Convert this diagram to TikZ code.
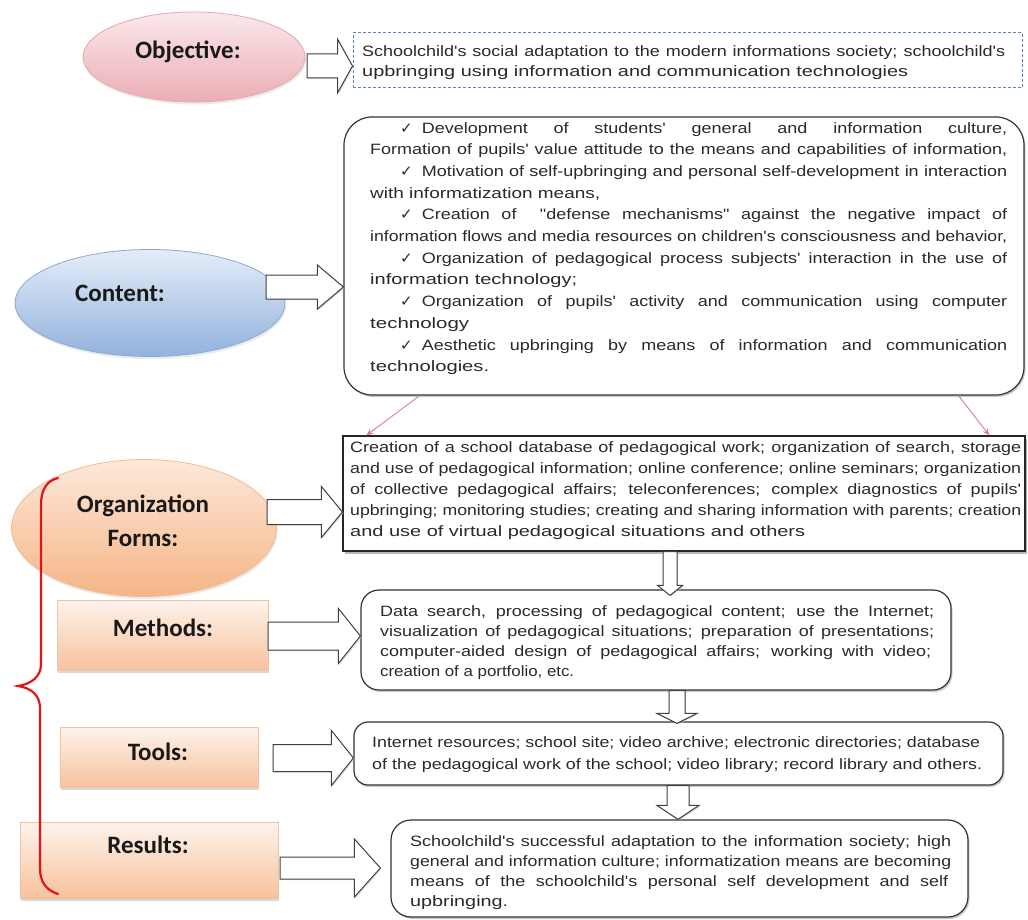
\documentclass[tikz,border=0pt]{standalone}
\usepackage{fontspec}
\usepackage{graphicx}
\newfontfamily\bodyfont{Liberation Sans}[FakeStretch=1.2]
\newfontfamily\labelfont{Carlito}
\newfontfamily\symfont{DejaVu Sans}
\usetikzlibrary{shapes.geometric,shadows,calc,arrows.meta}

\definecolor{objtop}{HTML}{FBE8EA}
\definecolor{objbot}{HTML}{EBADB5}
\definecolor{objline}{HTML}{E6A8B0}
\definecolor{conttop}{HTML}{E4EDF8}
\definecolor{contbot}{HTML}{93B2DD}
\definecolor{contline}{HTML}{8AA9D3}
\definecolor{orgtop}{HTML}{FDE8DA}
\definecolor{orgbot}{HTML}{F5B586}
\definecolor{orgline}{HTML}{F2BC97}
\definecolor{peachtop}{HTML}{FEF3EC}
\definecolor{peachbot}{HTML}{F7C29D}
\definecolor{peachline}{HTML}{EFC3A3}
\definecolor{dashblue}{HTML}{5B84B8}
\definecolor{connpink}{HTML}{D9808F}
\definecolor{bracered}{HTML}{E01515}
\definecolor{txt}{HTML}{2A2A2A}

\newlength\natw
% full (justified) line of given width
\newcommand\fl[2]{\settowidth\natw{#2}%
  \ifdim\natw<#1pt\relax
    \hbox to #1pt{\spaceskip=\fontdimen2\font plus 1fill\xspaceskip=\spaceskip #2}%
  \else
    \resizebox{#1pt}{\height}{#2}%
  \fi}
% partial (last) line: scaled to the given width, spaces unchanged
\newcommand\pl[2]{\resizebox{#1pt}{\height}{#2}}
\newcommand\ind[2]{\hbox{\hskip30pt\fl{#1}{#2}}}
\newcommand\ck{{\symfont ✓}\hspace{9pt}}

% right block arrow: start, tip, shaft half, head half, head length
\newcommand\rarrow[5]{\draw[blockarrow] let \p1=#1, \p2=#2 in
  (\x1,\y1+#3pt) -- (\x2-#5pt,\y1+#3pt) -- (\x2-#5pt,\y1+#4pt) -- (\x2,\y1)
  -- (\x2-#5pt,\y1-#4pt) -- (\x2-#5pt,\y1-#3pt) -- (\x1,\y1-#3pt) -- cycle;}
% down block arrow: start, tip, shaft half, head half, head length
\newcommand\darrow[5]{\draw[blockarrow] let \p1=#1, \p2=#2 in
  (\x1-#3pt,\y1) -- (\x1-#3pt,\y2+#5pt) -- (\x1-#4pt,\y2+#5pt) -- (\x1,\y2)
  -- (\x1+#4pt,\y2+#5pt) -- (\x1+#3pt,\y2+#5pt) -- (\x1+#3pt,\y1) -- cycle;}

\begin{document}
\begin{tikzpicture}[x=1pt,y=-1pt,
  lbl/.style={font=\labelfont\bfseries\fontsize{25}{34}\selectfont, text=black!90, inner sep=0pt},
  bodytext/.style={font=\bodyfont\fontsize{15}{#1}\selectfont, text=txt, inner sep=0pt, align=left, anchor=north west},
  blockarrow/.style={draw=black!75, fill=white, line width=1pt, line join=miter,
    drop shadow={shadow xshift=1.2pt, shadow yshift=-1.2pt, fill=black!25}},
  roundbox/.style={draw=black!80, line width=1.2pt, fill=white, inner sep=0pt,
    drop shadow={shadow xshift=1.5pt, shadow yshift=-2pt, fill=black!40}},
  sqbox/.style={draw=black!85, line width=1.2pt, fill=white, inner sep=0pt,
    drop shadow={shadow xshift=2pt, shadow yshift=-2.5pt, fill=black!55}},
  ellnode/.style={ellipse, inner sep=0pt, line width=0.8pt,
    drop shadow={shadow xshift=1pt, shadow yshift=-2.5pt, fill=black!15}},
  peach/.style={rectangle, inner sep=0pt, draw=peachline, line width=0.6pt,
    top color=peachtop, bottom color=peachbot,
    drop shadow={shadow xshift=1pt, shadow yshift=-2.5pt, fill=black!30}},
  pinkconn/.style={draw=connpink, line width=0.9pt, -{Stealth[length=7pt,width=6pt]}},
  redbrace/.style={draw=bracered, line width=2.2pt, line cap=round}
]
\useasboundingbox[fill=white] (0,0) rectangle (1028,920);

% ---------- right-hand boxes ----------
\node[draw=dashblue, dash pattern=on 3pt off 2pt, line width=1pt, inner sep=0pt,
      minimum width=669pt, minimum height=55pt] (objbox) at (687.5,60.5) {};
\node[roundbox, rounded corners=28pt, minimum width=680pt, minimum height=278pt] (contbox) at (684,256) {};
\node[sqbox, minimum width=682pt, minimum height=115pt] (orgbox) at (684,493.5) {};
\node[roundbox, rounded corners=18pt, minimum width=590pt, minimum height=100pt] (methbox) at (656,640) {};
\node[roundbox, rounded corners=14pt, minimum width=649pt, minimum height=63pt] (toolbox) at (678.5,753.5) {};
\node[roundbox, rounded corners=20pt, minimum width=577pt, minimum height=97pt] (resbox) at (679.5,868.5) {};

% ---------- left-hand shapes ----------
\node[ellnode, draw=objline, top color=objtop, bottom color=objbot,
      minimum width=222pt, minimum height=90pt] (obj) at (194,57) {};
\node[ellnode, draw=contline, top color=conttop, bottom color=contbot,
      minimum width=270pt, minimum height=107pt] (cont) at (150,303) {};
\node[ellnode, draw=orgline, top color=orgtop, bottom color=orgbot,
      minimum width=265pt, minimum height=137pt] (org) at (144,528) {};
\node[peach, minimum width=211pt, minimum height=70pt] (methrect) at (162.5,635) {};
\node[peach, minimum width=198pt, minimum height=60pt] (toolrect) at (159,757) {};
\node[peach, minimum width=258pt, minimum height=76pt] (resrect) at (149,860) {};

% ---------- labels ----------
\node[lbl] (objlbl) at (188,52) {Objective:};
\node[lbl] (contlbl) at (120,293) {Content:};
\node[lbl, align=center] (orglbl) at (143,521) {Organization\\Forms:};
\node[lbl] (methlbl) at (163,628) {Methods:};
\node[lbl] (toollbl) at (158,752) {Tools:};
\node[lbl] (reslbl) at (148,845) {Results:};

% ---------- block arrows ----------
\coordinate (a1) at (307,66);
\coordinate (a2) at (266,287);
\coordinate (a3) at (267,512);
\coordinate (a4) at (268,636);
\coordinate (a5) at (273,758);
\coordinate (a6) at (280,868);
\rarrow{(a1)}{(objbox.west |- a1)}{12}{27}{15}
\rarrow{(a2)}{(contbox.west |- a2)}{12}{22}{26}
\rarrow{(a3)}{(orgbox.west |- a3)}{12.5}{25.5}{21}
\rarrow{(a4)}{(methbox.west |- a4)}{14}{27.5}{22}
\rarrow{(a5)}{(toolbox.west |- a5)}{13.5}{27.5}{22}
\rarrow{(a6)}{($(resbox.west |- a6)+(-10,0)$)}{11}{29}{26}

\coordinate (d1) at (670,0);
\coordinate (d2) at (677,0);
\coordinate (d3) at (678,0);
\darrow{(orgbox.south -| d1)}{($(methbox.north -| d1)+(0,6)$)}{7}{12.5}{10}
\darrow{(methbox.south -| d2)}{($(toolbox.north -| d2)+(0,2)$)}{8}{20}{10}
\darrow{(toolbox.south -| d3)}{(resbox.north -| d3)}{11}{21}{14}

% ---------- thin pink connectors ----------
\draw[pinkconn] ($(contbox.south west)!0.112!(contbox.south east)$) -- ($(orgbox.north west)!0.035!(orgbox.north east)$);
\draw[pinkconn] ($(contbox.south west)!0.903!(contbox.south east)$) -- ($(orgbox.north west)!0.947!(orgbox.north east)$);

% ---------- texts ----------
\node[bodytext=20] (objtxt) at (362,45) {%
\fl{643}{Schoolchild's social adaptation to the modern informations society; schoolchild's}\\
\pl{546}{upbringing using information and communication technologies}};

\node[bodytext=21.7] (conttxt) at (370,122) {%
\ind{607}{\ck Development of students' general and information culture,}\\
\fl{637}{Formation of pupils' value attitude to the means and capabilities of information,}\\
\ind{607}{\ck Motivation of self-upbringing and personal self-development in interaction}\\
\pl{230}{with informatization means,}\\
\ind{607}{\ck Creation of \ "defense mechanisms" against the negative impact of}\\
\fl{637}{information flows and media resources on children's consciousness and behavior,}\\
\ind{607}{\ck Organization of pedagogical process subjects' interaction in the use of}\\
\pl{207}{information technology;}\\
\ind{607}{\ck Organization of pupils' activity and communication using computer}\\
\pl{99}{technology}\\
\ind{607}{\ck Aesthetic upbringing by means of information and communication}\\
\pl{119}{technologies.}};

\node[bodytext=21] (orgtxt) at (350,441) {%
\fl{671}{Creation of a school database of pedagogical work; organization of search, storage}\\
\fl{671}{and use of pedagogical information; online conference; online seminars; organization}\\
\fl{671}{of collective pedagogical affairs; teleconferences; complex diagnostics of pupils'}\\
\fl{671}{upbringing; monitoring studies; creating and sharing information with parents; creation}\\
\pl{455}{and use of virtual pedagogical situations and others}};

\node[bodytext=20] (methtxt) at (380,605) {%
\fl{554}{Data search, processing of pedagogical content; use the Internet;}\\
\fl{554}{visualization of pedagogical situations; preparation of presentations;}\\
\fl{551}{computer-aided design of pedagogical affairs; working with video;}\\
\pl{194}{creation of a portfolio, etc.}};

\node[bodytext=22] (tooltxt) at (372,736) {%
\fl{608}{Internet resources; school site; video archive; electronic directories; database}\\
\fl{610}{of the pedagogical work of the school; video library; record library and others.}};

\node[bodytext=20.3] (restxt) at (410,835) {%
\fl{541}{Schoolchild's successful adaptation to the information society; high}\\
\fl{541}{general and information culture; informatization means are becoming}\\
\fl{538}{means of the schoolchild's personal self development and self}\\
\pl{98}{upbringing.}};

% ---------- red brace ----------
\draw[redbrace] (58,478) .. controls (45,481) and (41,492) .. (41,505) -- (41,664)
  .. controls (41,677) and (31,684) .. (18,686)
  .. controls (31,688) and (40,695) .. (40,708) -- (40,868)
  .. controls (40,882) and (46,890) .. (58,894);
\end{tikzpicture}
\end{document}
